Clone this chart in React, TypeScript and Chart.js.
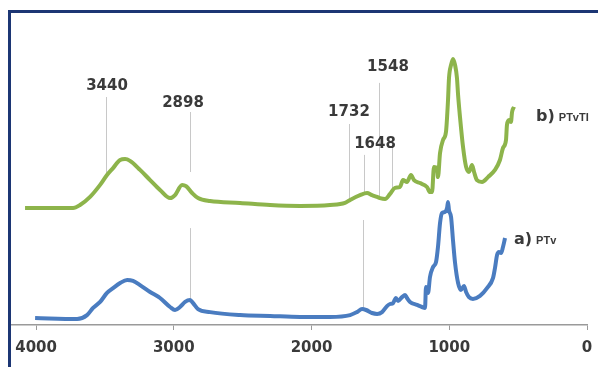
import React, { useEffect, useRef } from 'react';
import { Chart, registerables } from 'chart.js';

Chart.register(...registerables);

// PTvTI spectrum (upper, green): wavenumber (cm-1) and signal (a.u.)
const ptvtiWavenumber = [
  4080, 3731, 3681, 3608, 3535, 3485, 3441, 3390, 3354, 3318, 3245, 3172, 3100, 3027, 2991, 2940, 2911, 2867,
  2824, 2737, 2519, 2301, 2083, 1866, 1757, 1720, 1648, 1597, 1561, 1524, 1503, 1466, 1430, 1394, 1358, 1336,
  1307, 1278, 1256, 1212, 1162, 1140, 1125, 1111, 1089, 1082, 1067, 1045, 1024, 1009, 1002, 987, 973, 958, 944,
  936, 922, 900, 878, 857, 835, 820, 799, 762, 719, 668, 632, 610, 588, 581, 566, 552, 544, 530,
];
const ptvtiSignal = [
  39.0, 39.0, 40.0, 42.7, 46.7, 50.0, 52.3, 55.0, 55.3, 54.7, 51.7, 48.3, 45.0, 42.3, 43.3, 46.7, 46.3, 44.0,
  42.3, 41.3, 40.7, 40.0, 39.7, 40.0, 40.7, 41.7, 43.3, 44.0, 43.3, 42.7, 42.3, 42.0, 43.7, 45.7, 46.0, 48.3,
  47.7, 50.0, 48.3, 47.3, 46.0, 44.3, 44.3, 52.7, 52.3, 49.3, 57.3, 61.7, 64.3, 75.0, 82.3, 86.7, 88.7, 86.7, 82.3,
  76.7, 69.3, 59.3, 52.7, 51.0, 53.3, 51.0, 48.3, 47.7, 49.3, 51.7, 55.0, 59.0, 61.7, 66.7, 68.3, 67.7, 71.0, 72.7,
];

// PTv spectrum (lower, blue)
const ptvWavenumber = [
  4007, 3702, 3630, 3586, 3535, 3485, 3441, 3390, 3339, 3296, 3245, 3172, 3100, 3027, 2991, 2955, 2918, 2882,
  2860, 2824, 2737, 2519, 2301, 2083, 1866, 1720, 1670, 1633, 1604, 1561, 1524, 1488, 1452, 1430, 1408, 1387,
  1372, 1343, 1321, 1307, 1285, 1234, 1198, 1176, 1169, 1154, 1140, 1118, 1096, 1082, 1067, 1053, 1031, 1016,
  1009, 1002, 987, 973, 958, 936, 915, 893, 878, 857, 828, 777, 726, 682, 668, 653, 639, 624, 610, 595,
];
const ptvSignal = [
  2.3, 2.0, 3.3, 5.7, 7.7, 10.7, 12.3, 14.0, 15.0, 14.7, 13.3, 11.0, 9.0, 6.0, 5.0, 6.0, 7.7, 8.3,
  7.3, 5.3, 4.3, 3.3, 3.0, 2.7, 2.7, 3.3, 4.3, 5.3, 5.0, 4.0, 3.7, 4.3, 6.3, 7.0, 7.3, 9.0,
  8.0, 9.3, 10.0, 9.0, 7.7, 6.7, 6.0, 5.7, 12.7, 10.7, 16.0, 19.3, 21.0, 26.0, 34.0, 37.3, 37.7, 39.0,
  41.0, 38.3, 36.0, 28.3, 20.7, 14.0, 11.7, 13.0, 11.0, 9.3, 8.7, 9.7, 12.3, 15.7, 19.0, 23.3, 24.3, 24.0, 26.0, 29.0,
];

const xTickValues = [4000, 3000, 2000, 1000, 0];

// Peak annotations
const peakLabels = ['3440', '2898', '1732', '1648', '1548'];
const peakLabelX = [3485, 2933, 1728, 1539, 1445];
const peakLabelY = [79.7, 74.0, 71.0, 60.3, 86.0];

// Marker lines (wavenumber, top value, bottom value)
const markerX = [3492, 2882, 2882, 1728, 1619, 1510, 1416, 1626];
const markerTop = [76.0, 71.0, 32.3, 67.0, 56.7, 80.7, 61.0, 35.0];
const markerBottom = [50.7, 51.0, 8.3, 41.0, 44.0, 42.7, 45.7, 5.7];

// Series labels
const seriesPrefix = ['b)', 'a)'];
const seriesName = ['PTvTI', 'PTv'];
const seriesLabelX = [370, 530];
const seriesLabelY = [69.7, 28.7];

const GREEN = '#8db44b';
const BLUE = '#4a7cc0';
const TEXT = '#3a3a3a';
const FRAME = '#1c3674';

const decorPlugin = {
  id: 'decor',
  beforeDatasetsDraw(chart: any) {
    const { ctx, scales } = chart;
    const xs = scales.x;
    const ys = scales.y;
    ctx.save();
    ctx.strokeStyle = '#c8c8c8';
    ctx.lineWidth = 1;
    for (let i = 0; i < markerX.length; i++) {
      const px = Math.round(xs.getPixelForValue(markerX[i])) + 0.5;
      ctx.beginPath();
      ctx.moveTo(px, ys.getPixelForValue(markerTop[i]));
      ctx.lineTo(px, ys.getPixelForValue(markerBottom[i]));
      ctx.stroke();
    }
    ctx.restore();
  },
  afterDraw(chart: any) {
    const { ctx, scales, width, height } = chart;
    const xs = scales.x;
    const ys = scales.y;
    ctx.save();
    ctx.fillStyle = TEXT;
    ctx.textBaseline = 'middle';
    ctx.textAlign = 'center';
    ctx.font = 'bold 15px "DejaVu Sans"';
    for (let i = 0; i < peakLabels.length; i++) {
      ctx.fillText(peakLabels[i], xs.getPixelForValue(peakLabelX[i]), ys.getPixelForValue(peakLabelY[i]));
    }
    ctx.textAlign = 'left';
    ctx.textBaseline = 'alphabetic';
    for (let i = 0; i < seriesPrefix.length; i++) {
      const px = xs.getPixelForValue(seriesLabelX[i]);
      const py = ys.getPixelForValue(seriesLabelY[i]) + 5;
      ctx.font = 'bold 16px "DejaVu Sans"';
      ctx.fillText(seriesPrefix[i], px, py);
      const w = ctx.measureText(seriesPrefix[i]).width;
      ctx.font = 'bold 11px "Liberation Sans"';
      ctx.fillText(seriesName[i], px + w + 4, py);
    }
    // frame
    ctx.fillStyle = FRAME;
    ctx.fillRect(8, 10, width - 8, 3);
    ctx.fillRect(8, 10, 3, height - 10);
    ctx.restore();
  },
};

export default function App() {
  const ref = useRef<HTMLCanvasElement | null>(null);
  useEffect(() => {
    document.body.style.margin = '0';
    const canvas = ref.current!;
    const chart = new Chart(canvas, {
      type: 'scatter',
      data: {
        datasets: [
          {
            label: 'PTvTI',
            data: ptvtiWavenumber.map((x, i) => ({ x, y: ptvtiSignal[i] })),
            showLine: true,
            borderColor: GREEN,
            borderWidth: 4,
            pointRadius: 0,
            cubicInterpolationMode: 'monotone',
            fill: false,
          },
          {
            label: 'PTv',
            data: ptvWavenumber.map((x, i) => ({ x, y: ptvSignal[i] })),
            showLine: true,
            borderColor: BLUE,
            borderWidth: 4,
            pointRadius: 0,
            cubicInterpolationMode: 'monotone',
            fill: false,
          },
        ],
      },
      options: {
        animation: false,
        responsive: false,
        devicePixelRatio: 1,
        layout: { padding: { left: 11, right: 11, top: 25, bottom: 1 } },
        plugins: { legend: { display: false }, tooltip: { enabled: false } },
        scales: {
          x: {
            type: 'linear',
            reverse: true,
            min: 0,
            max: 4182,
            afterBuildTicks: (axis: any) => {
              axis.ticks = xTickValues.map((v) => ({ value: v }));
            },
            afterFit: (axis: any) => {
              axis.paddingLeft = 0;
              axis.paddingRight = 0;
            },
            grid: { drawOnChartArea: false, drawTicks: true, tickLength: 5, color: '#9a9a9a' },
            border: { display: true, color: '#9a9a9a', width: 1.5 },
            ticks: {
              padding: 9,
              color: TEXT,
              font: { family: '"DejaVu Sans"', size: 15, weight: 'bold' },
              maxRotation: 0,
              autoSkip: false,
              callback: (v: any) => String(v),
            },
          },
          y: { display: false, min: 0, max: 100 },
        },
      },
      plugins: [decorPlugin],
    });
    return () => chart.destroy();
  }, []);
  return <canvas ref={ref} width={598} height={367} style={{ display: 'block' }} />;
}
